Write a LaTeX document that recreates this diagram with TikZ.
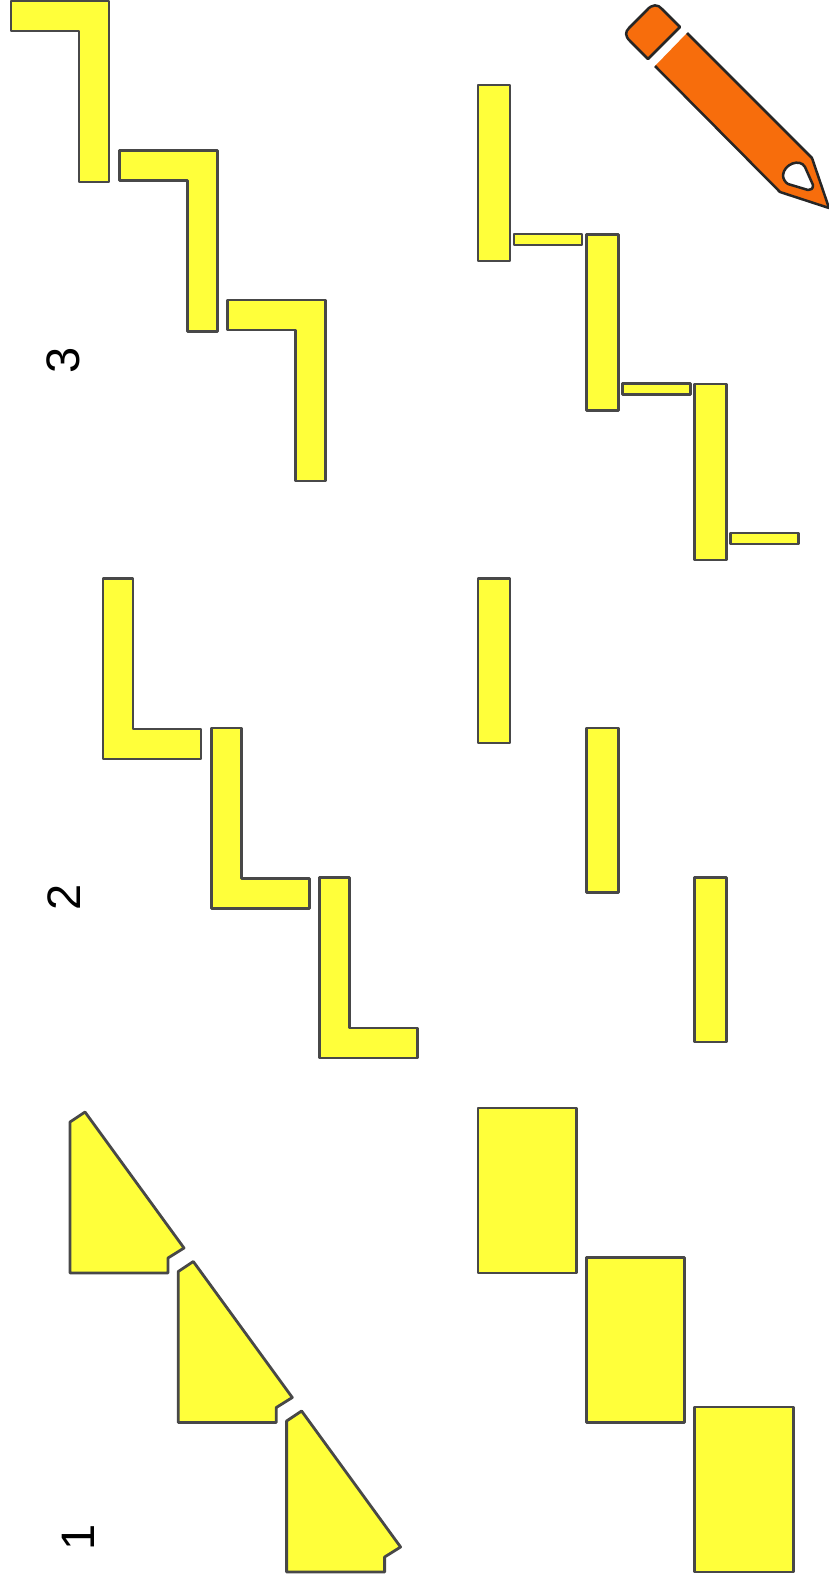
\documentclass[tikz,border=0pt]{standalone}
\usepackage{fontspec}
\setmainfont{Liberation Sans}
\definecolor{pieceyellow}{HTML}{FFFF3A}
\definecolor{pieceedge}{HTML}{484848}
\definecolor{pencilorange}{HTML}{F76D0C}
\tikzset{
  piece/.style={fill=pieceyellow,draw=pieceedge,line width=2.8pt,line join=round},
  penciledge/.style={draw=black!85,line width=2.5pt,line join=round},
  rowlabel/.style={rotate=90,inner sep=0pt,font=\fontsize{47}{47}\selectfont}
}
\begin{document}
\begin{tikzpicture}[x=1pt,y=-1pt]
  \useasboundingbox (0,0) rectangle (829,1583);
  \foreach \i in {0,1,2} {
    \begin{scope}[shift={(108.3*\i,149.5*\i)}]
      \draw[piece] (11,1) -- (109,1) -- (109,182) -- (79,182) -- (79,31) -- (11,31) -- cycle;
      \draw[piece] (478,85) rectangle (510,261);
      \draw[piece] (514,234) rectangle (582,245);
      \draw[piece] (103,578.5) -- (133,578.5) -- (133,729) -- (201,729) -- (201,759) -- (103,759) -- cycle;
      \draw[piece] (478,578.5) rectangle (510,743);
      \draw[piece] (70,1122) -- (85,1112) -- (184,1248) -- (168,1258) -- (168,1273) -- (70,1273) -- cycle;
      \draw[piece] (478,1108) rectangle (576.5,1273);
    \end{scope}
  }
  \node[rowlabel] (labelone) at (78,1537) {1};
  \node[rowlabel] (labeltwo) at (64,897) {2};
  \node[rowlabel] (labelthree) at (63,360) {3};
  \fill[pencilorange] (687,33) -- (812,158) -- (829,208) -- (780,192) -- (655,66) -- cycle;
  \draw[penciledge] (687,33) -- (812,158) -- (829,208) -- (780,192) -- (655,66);
  \draw[penciledge,fill=white] (783,175) .. controls (784,164) and (800,158) .. (805,167)
    -- (813,185) .. controls (813,189) and (811,190) .. (808,190)
    -- (788,184) .. controls (785,182) and (783,179) .. (783,175) -- cycle;
  \draw[penciledge,fill=pencilorange] (680,27) -- (648,59) -- (630,41)
    .. controls (625,36) and (625,32) .. (629,28)
    -- (647,10) .. controls (652,4) and (658,4) .. (662,9) -- cycle;
\end{tikzpicture}
\end{document}
